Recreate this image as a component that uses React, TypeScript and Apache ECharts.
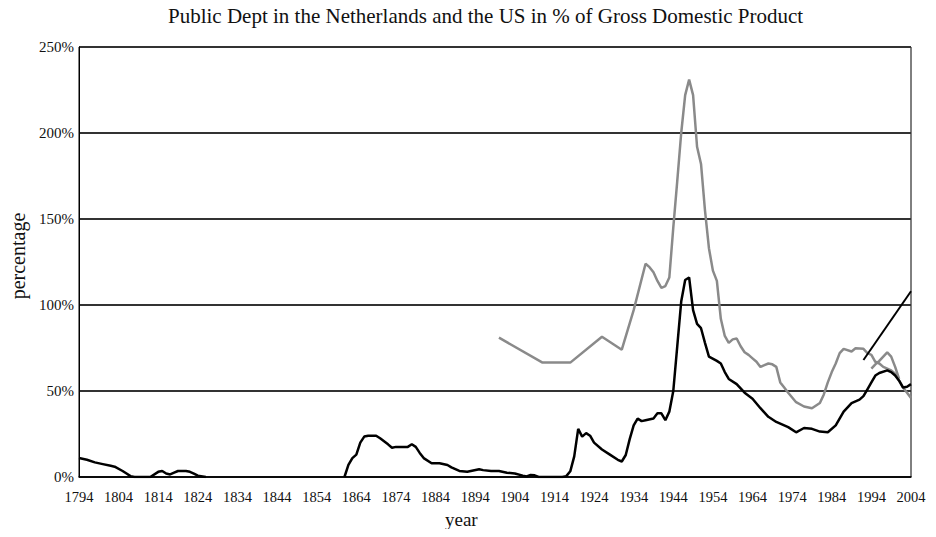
import React, { useEffect, useRef } from "react";
import * as echarts from "echarts";

const START_YEAR = 1794;
const END_YEAR = 2004;
const yTicks = [0, 50, 100, 150, 200, 250];

// Black line: long-run series (gap 1827-1860)
const blackDebt: [number, number | null][] = [
  [1794, 11], [1796, 10], [1798, 8.5], [1800, 7.5], [1802, 6.5], [1803, 6],
  [1805, 3.5], [1806, 2], [1807, 0.5], [1808, 0], [1812, 0], [1814, 3],
  [1815, 3.5], [1816, 2], [1817, 1.5], [1818, 2.5], [1819, 3.5], [1821, 3.5],
  [1822, 3], [1823, 2], [1824, 0.8], [1826, 0],
  [1840, null],
  [1861, 0], [1862, 7], [1863, 11], [1864, 13], [1865, 20], [1866, 23.5],
  [1867, 24], [1869, 24], [1870, 22.5], [1872, 19], [1873, 17], [1874, 17.5],
  [1877, 17.5], [1878, 19], [1879, 17.5], [1880, 14], [1881, 11], [1883, 8],
  [1885, 8], [1887, 7], [1888, 5.6], [1890, 3.5], [1892, 3], [1895, 4.5],
  [1896, 4], [1898, 3.5], [1900, 3.5], [1902, 2.5], [1904, 2], [1906, 0.8],
  [1907, 0.3], [1908, 1.2], [1909, 1], [1910, 0], [1916, 0], [1917, 0.5],
  [1918, 3.3], [1919, 12], [1920, 28], [1921, 23.5], [1922, 25.5], [1923, 24],
  [1924, 20], [1926, 16], [1928, 13], [1930, 10], [1931, 9], [1932, 12.8],
  [1933, 22], [1934, 30], [1935, 34], [1936, 32.5], [1937, 33], [1939, 34],
  [1940, 37], [1941, 37], [1942, 33], [1943, 38], [1944, 50], [1945, 76],
  [1946, 102], [1947, 114.5], [1948, 116], [1949, 97], [1950, 89], [1951, 86.5],
  [1952, 78], [1953, 70], [1955, 67.5], [1956, 66], [1957, 61], [1958, 57],
  [1960, 54], [1962, 49], [1964, 45.5], [1966, 40], [1968, 35], [1970, 32],
  [1972, 30], [1973, 29], [1975, 26], [1977, 28.5], [1979, 28], [1981, 26.4],
  [1983, 26], [1985, 30], [1987, 38], [1989, 43], [1991, 45], [1992, 47],
  [1993, 51], [1994, 55], [1995, 59], [1996, 60.5], [1998, 62], [1999, 61],
  [2000, 59], [2001, 56], [2002, 52], [2003, 52.5], [2004, 54],
];

// Gray line: 1900-2004
const grayDebt: [number, number][] = [
  [1900, 81], [1911, 66.5], [1918, 66.5], [1926, 81.5], [1931, 74],
  [1934, 97], [1937, 124], [1938, 122], [1939, 119], [1940, 114], [1941, 110],
  [1942, 111], [1943, 116], [1944, 145], [1945, 172], [1946, 200], [1947, 222],
  [1948, 231], [1949, 222], [1950, 192], [1951, 182], [1952, 155], [1953, 133],
  [1954, 120], [1955, 114], [1956, 92], [1957, 82], [1958, 78], [1959, 80],
  [1960, 80.5], [1961, 76], [1962, 72.5], [1963, 71], [1964, 69], [1965, 67],
  [1966, 64], [1967, 65], [1968, 66], [1969, 65.5], [1970, 64], [1971, 55],
  [1972, 52], [1973, 49], [1975, 43.5], [1977, 41], [1979, 40], [1981, 43],
  [1982, 48], [1983, 55], [1984, 61], [1985, 66], [1986, 72], [1987, 74.5],
  [1989, 73], [1990, 74.8], [1992, 74.5], [1993, 72], [1994, 71], [1995, 67],
  [1996, 66], [1997, 64], [1998, 63], [1999, 62], [2000, 60], [2001, 56],
  [2002, 52], [2003, 49], [2004, 46],
];

// Short gray segment
const grayShort: [number, number][] = [
  [1994, 63], [1995, 65.5], [1996, 67.5], [1997, 70], [1998, 72.5],
  [1999, 70], [2000, 64], [2001, 57],
];

// Straight black segment
const blackTrend: [number, number][] = [
  [1992, 68], [2004, 108],
];

const toXY = (arr: [number, number | null][]) =>
  arr.map(([yr, v]) => [yr - START_YEAR, v]);

const FONT = "'Liberation Serif', 'Times New Roman', serif";

export default function App() {
  const ref = useRef<HTMLDivElement>(null);

  useEffect(() => {
    if (!ref.current) return;
    const chart = echarts.init(ref.current, undefined, { renderer: "svg" });
    const lineStyleBlack = { color: "#000", width: 2.5 };
    const lineStyleGray = { color: "#8a8a8a", width: 2.5 };
    chart.setOption({
      animation: false,
      backgroundColor: "#fff",
      textStyle: { fontFamily: FONT },
      title: [
        {
          text: "Public Dept in the Netherlands and the US in % of Gross Domestic Product",
          left: 168,
          top: 5,
          padding: 0,
          textStyle: { fontFamily: FONT, fontSize: 21, fontWeight: "normal", color: "#111" },
        },
        {
          text: "year",
          left: 445,
          top: 510,
          padding: 0,
          textStyle: { fontFamily: FONT, fontSize: 19, fontWeight: "normal", color: "#111" },
        },
      ],
      graphic: [
        {
          type: "text",
          x: 18,
          y: 256,
          rotation: Math.PI / 2,
          style: {
            text: "percentage",
            fontFamily: FONT,
            fontSize: 20,
            fill: "#111",
            align: "center",
            verticalAlign: "middle",
          },
        },
      ],
      grid: {
        left: 79,
        right: 25,
        top: 47,
        bottom: 60,
        show: true,
        borderColor: "#000",
        borderWidth: 1,
        containLabel: false,
        outerBoundsMode: "none",
      },
      xAxis: {
        type: "value",
        min: 0,
        max: END_YEAR - START_YEAR,
        interval: 10,
        axisLine: { show: true, onZero: false, lineStyle: { color: "#000", width: 1.5 } },
        axisTick: { show: false },
        splitLine: { show: false },
        axisLabel: {
          formatter: (v: number) => String(v + START_YEAR),
          fontFamily: FONT,
          fontSize: 14.5,
          color: "#111",
          margin: 12,
        },
      },
      yAxis: {
        type: "value",
        min: yTicks[0],
        max: yTicks[yTicks.length - 1],
        interval: 50,
        axisLine: { show: true, lineStyle: { color: "#000", width: 1 } },
        axisTick: { show: false },
        splitLine: { show: true, lineStyle: { color: "#333", width: 2 } },
        axisLabel: {
          formatter: "{value}%",
          fontFamily: FONT,
          fontSize: 15,
          color: "#111",
          margin: 5,
        },
      },
      series: [
        {
          type: "line",
          data: toXY(grayDebt),
          showSymbol: false,
          symbol: "none",
          lineStyle: lineStyleGray,
          z: 2,
        },
        {
          type: "line",
          data: toXY(grayShort),
          showSymbol: false,
          symbol: "none",
          lineStyle: lineStyleGray,
          z: 2,
        },
        {
          type: "line",
          data: toXY(blackDebt),
          showSymbol: false,
          symbol: "none",
          connectNulls: false,
          lineStyle: lineStyleBlack,
          z: 3,
        },
        {
          type: "line",
          data: toXY(blackTrend),
          showSymbol: false,
          symbol: "none",
          lineStyle: { color: "#000", width: 2 },
          z: 3,
        },
      ],
    });
    return () => chart.dispose();
  }, []);

  return <div ref={ref} style={{ width: 936, height: 537, margin: -8 }} />;
}
